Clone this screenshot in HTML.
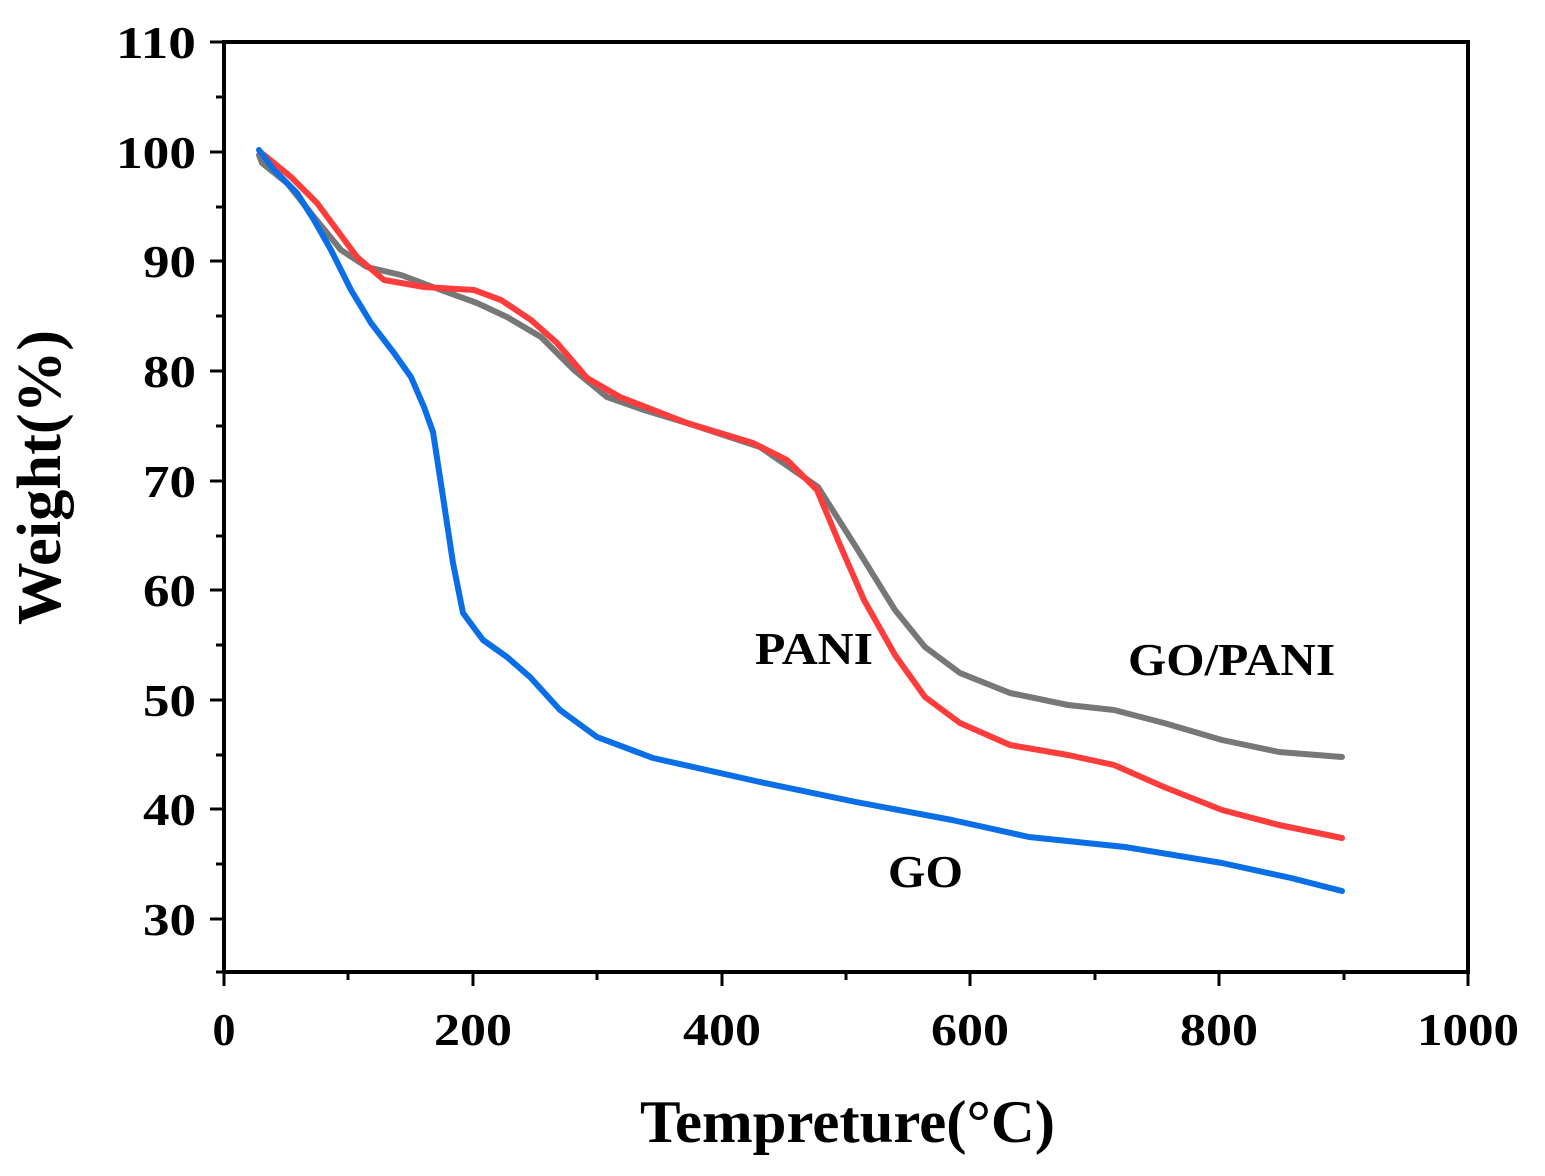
<!DOCTYPE html>
<html><head><style>body{margin:0;background:#fff}</style></head><body>
<svg width="1545" height="1171" xmlns="http://www.w3.org/2000/svg" font-family="'Liberation Serif',serif" font-weight="bold">
<rect x="224" y="42" width="1244" height="930" fill="none" stroke="#000" stroke-width="4"/>
<g stroke="#000" stroke-width="3">
<line x1="224" y1="972" x2="224" y2="986"/><line x1="473" y1="972" x2="473" y2="986"/><line x1="722" y1="972" x2="722" y2="986"/><line x1="970" y1="972" x2="970" y2="986"/><line x1="1219" y1="972" x2="1219" y2="986"/><line x1="1468" y1="972" x2="1468" y2="986"/>
<line x1="348" y1="972" x2="348" y2="980"/><line x1="597" y1="972" x2="597" y2="980"/><line x1="846" y1="972" x2="846" y2="980"/><line x1="1095" y1="972" x2="1095" y2="980"/><line x1="1344" y1="972" x2="1344" y2="980"/>
<line x1="210" y1="42" x2="224" y2="42"/><line x1="210" y1="152" x2="224" y2="152"/><line x1="210" y1="261" x2="224" y2="261"/><line x1="210" y1="371" x2="224" y2="371"/><line x1="210" y1="481" x2="224" y2="481"/><line x1="210" y1="590" x2="224" y2="590"/><line x1="210" y1="700" x2="224" y2="700"/><line x1="210" y1="809" x2="224" y2="809"/><line x1="210" y1="919" x2="224" y2="919"/>
<line x1="216" y1="97" x2="224" y2="97"/><line x1="216" y1="207" x2="224" y2="207"/><line x1="216" y1="316" x2="224" y2="316"/><line x1="216" y1="426" x2="224" y2="426"/><line x1="216" y1="536" x2="224" y2="536"/><line x1="216" y1="645" x2="224" y2="645"/><line x1="216" y1="755" x2="224" y2="755"/><line x1="216" y1="864" x2="224" y2="864"/><line x1="216" y1="972" x2="224" y2="972"/>
</g>
<g font-size="46" text-anchor="end">
<text x="196" y="58" textLength="80" lengthAdjust="spacingAndGlyphs">110</text><text x="196" y="168" textLength="80" lengthAdjust="spacingAndGlyphs">100</text><text x="196" y="277" textLength="53" lengthAdjust="spacingAndGlyphs">90</text><text x="196" y="387" textLength="53" lengthAdjust="spacingAndGlyphs">80</text><text x="196" y="497" textLength="53" lengthAdjust="spacingAndGlyphs">70</text><text x="196" y="606" textLength="53" lengthAdjust="spacingAndGlyphs">60</text><text x="196" y="716" textLength="53" lengthAdjust="spacingAndGlyphs">50</text><text x="196" y="825" textLength="53" lengthAdjust="spacingAndGlyphs">40</text><text x="196" y="935" textLength="53" lengthAdjust="spacingAndGlyphs">30</text>
</g>
<g font-size="46" text-anchor="middle">
<text x="224" y="1045">0</text><text x="473" y="1045" textLength="78" lengthAdjust="spacingAndGlyphs">200</text><text x="722" y="1045" textLength="78" lengthAdjust="spacingAndGlyphs">400</text><text x="970" y="1045" textLength="78" lengthAdjust="spacingAndGlyphs">600</text><text x="1219" y="1045" textLength="78" lengthAdjust="spacingAndGlyphs">800</text><text x="1468" y="1045" textLength="102" lengthAdjust="spacingAndGlyphs">1000</text>
</g>
<text x="640" y="1142" font-size="60" textLength="415" lengthAdjust="spacingAndGlyphs">Tempreture(°C)</text>
<text transform="translate(60,625) rotate(-90)" font-size="62" textLength="295" lengthAdjust="spacingAndGlyphs">Weight(%)</text>
<g fill="none" stroke-width="6" stroke-linejoin="round" stroke-linecap="round">
<polyline stroke="#777777" points="259,155 262,163 287,183 314,217 341,250 367,267 401,275 441,290 477,303 507,317 541,337 574,370 607,397 644,410 690,424 760,447 818,487 856,547 895,610 925,647 960,673 1010,693 1068,705 1114,710 1164,723 1222,740 1279,752 1342,757"/>
<polyline stroke="#ff3c3c" points="260,152 264,155 291,177 317,203 337,230 357,257 384,280 424,287 474,290 501,300 531,320 557,343 587,378 620,397 687,423 753,443 787,460 817,490 840,545 864,600 895,655 925,697 960,723 1010,745 1068,755 1114,765 1164,787 1222,810 1279,825 1342,838"/>
<polyline stroke="#0a6fe6" points="259,150 274,170 297,193 314,220 331,250 351,290 371,323 394,353 411,377 424,407 433,432 443,497 453,563 463,613 483,640 507,657 530,677 560,710 597,737 653,758 760,782 856,802 952,820 1029,837 1125,847 1222,863 1291,878 1342,891"/>
</g>
<g font-size="46">
<text x="755" y="664" textLength="118" lengthAdjust="spacingAndGlyphs">PANI</text><text x="1128" y="675" textLength="207" lengthAdjust="spacingAndGlyphs">GO/PANI</text><text x="888" y="887" textLength="75" lengthAdjust="spacingAndGlyphs">GO</text>
</g>
</svg>
</body></html>
